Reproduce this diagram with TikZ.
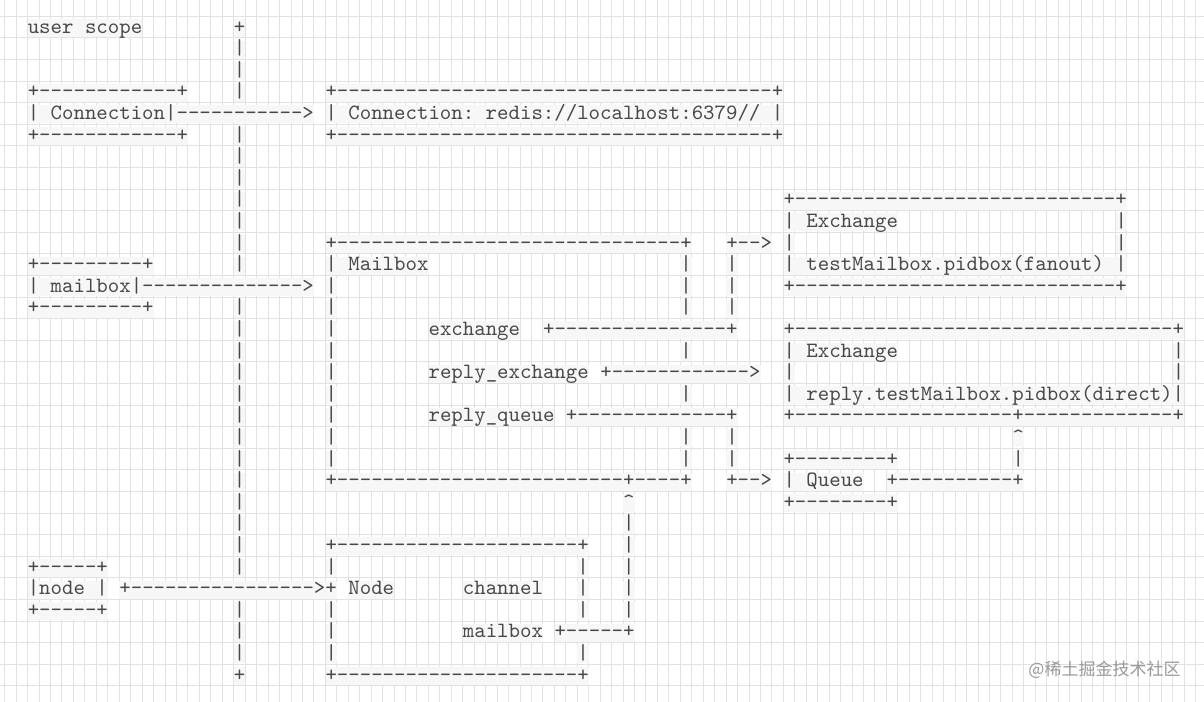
\documentclass[tikz,border=0pt]{standalone}
\usepackage{fontspec}
\usepackage{tikz}
\usepackage{xcolor}
\newfontfamily\cjk{Noto Sans CJK SC}
\newfontfamily\asciifont{lmmono10-regular.otf}
\definecolor{ink}{HTML}{484848}
\definecolor{gridgray}{HTML}{E2E2E2}
\tikzset{
    ascii-text/.style = {anchor=base west, inner xsep=0pt, inner ysep=1pt, text height=13pt, text depth=3pt, fill=black!3, text=ink, font=\fontsize{21.8}{24}\selectfont\asciifont},
    canvas-grid/.style = {draw=gridgray, line width=0.9pt},
    watermark-text/.style = {anchor=east, text=black!40, font=\fontsize{17}{20}\selectfont\cjk},
}
\newcommand{\asciirun}[3]{\node[ascii-text] (r#1c#2) at (#2,#1) {#3};}

\begin{document}
\frenchspacing
\begin{tikzpicture}[x=11.45pt, y=-21.6pt]
\useasboundingbox (-2.41,-1.528) rectangle (102.74,30.97);
\fill[white] (-2.41,-1.528) rectangle (102.74,30.97);
\begin{scope}
\clip (-2.41,-1.528) rectangle (102.74,30.97);
\draw[canvas-grid, xstep=11.45pt, ystep=21.6pt, yshift=16.8pt] (-3,32) grid (104,-3);
\end{scope}
% user scope line
\asciirun{0}{0}{user scope} \asciirun{0}{18}{+}
\asciirun{1}{18}{|}
\asciirun{2}{18}{|}
% connection
\asciirun{3}{0}{+------------+} \asciirun{3}{18}{|} \asciirun{3}{26}{+--------------------------------------+}
\asciirun{4}{0}{| Connection|----------->} \asciirun{4}{26}{| Connection: redis://localhost:6379// |}
\asciirun{5}{0}{+------------+} \asciirun{5}{18}{|} \asciirun{5}{26}{+--------------------------------------+}
\asciirun{6}{18}{|}
\asciirun{7}{18}{|}
% mailbox and exchanges
\asciirun{8}{18}{|} \asciirun{8}{66}{+----------------------------+}
\asciirun{9}{18}{|} \asciirun{9}{66}{| Exchange} \asciirun{9}{95}{|}
\asciirun{10}{18}{|} \asciirun{10}{26}{+------------------------------+} \asciirun{10}{61}{+-->} \asciirun{10}{66}{|} \asciirun{10}{95}{|}
\asciirun{11}{0}{+---------+} \asciirun{11}{18}{|} \asciirun{11}{26}{| Mailbox} \asciirun{11}{57}{|} \asciirun{11}{61}{|} \asciirun{11}{66}{| testMailbox.pidbox(fanout) |}
\asciirun{12}{0}{| mailbox|-------------->} \asciirun{12}{26}{|} \asciirun{12}{57}{|} \asciirun{12}{61}{|} \asciirun{12}{66}{+----------------------------+}
\asciirun{13}{0}{+---------+} \asciirun{13}{18}{|} \asciirun{13}{26}{|} \asciirun{13}{57}{|} \asciirun{13}{61}{|}
\asciirun{14}{18}{|} \asciirun{14}{26}{|} \asciirun{14}{35}{exchange} \asciirun{14}{45}{+---------------+} \asciirun{14}{66}{+---------------------------------+}
\asciirun{15}{18}{|} \asciirun{15}{26}{|} \asciirun{15}{57}{|} \asciirun{15}{66}{| Exchange} \asciirun{15}{100}{|}
\asciirun{16}{18}{|} \asciirun{16}{26}{|} \asciirun{16}{35}{reply\_exchange} \asciirun{16}{50}{+------------>} \asciirun{16}{66}{|} \asciirun{16}{100}{|}
\asciirun{17}{18}{|} \asciirun{17}{26}{|} \asciirun{17}{57}{|} \asciirun{17}{66}{| reply.testMailbox.pidbox(direct)|}
\asciirun{18}{18}{|} \asciirun{18}{26}{|} \asciirun{18}{35}{reply\_queue} \asciirun{18}{47}{+-------------+} \asciirun{18}{66}{+-------------------+-------------+}
\asciirun{19}{18}{|} \asciirun{19}{26}{|} \asciirun{19}{57}{|} \asciirun{19}{61}{|} \asciirun{19}{86}{\textasciicircum}
\asciirun{20}{18}{|} \asciirun{20}{26}{|} \asciirun{20}{57}{|} \asciirun{20}{61}{|} \asciirun{20}{66}{+--------+} \asciirun{20}{86}{|}
\asciirun{21}{18}{|} \asciirun{21}{26}{+-------------------------+----+} \asciirun{21}{61}{+-->} \asciirun{21}{66}{| Queue} \asciirun{21}{75}{+----------+}
\asciirun{22}{18}{|} \asciirun{22}{52}{\textasciicircum} \asciirun{22}{66}{+--------+}
\asciirun{23}{18}{|} \asciirun{23}{52}{|}
% node
\asciirun{24}{18}{|} \asciirun{24}{26}{+---------------------+} \asciirun{24}{52}{|}
\asciirun{25}{0}{+-----+} \asciirun{25}{18}{|} \asciirun{25}{26}{|} \asciirun{25}{48}{|} \asciirun{25}{52}{|}
\asciirun{26}{0}{|node |} \asciirun{26}{8}{+---------------->+} \asciirun{26}{28}{Node} \asciirun{26}{38}{channel} \asciirun{26}{48}{|} \asciirun{26}{52}{|}
\asciirun{27}{0}{+-----+} \asciirun{27}{18}{|} \asciirun{27}{26}{|} \asciirun{27}{48}{|} \asciirun{27}{52}{|}
\asciirun{28}{18}{|} \asciirun{28}{26}{|} \asciirun{28}{38}{mailbox} \asciirun{28}{46}{+-----+}
\asciirun{29}{18}{|} \asciirun{29}{26}{|} \asciirun{29}{48}{|}
\asciirun{30}{18}{+} \asciirun{30}{26}{+---------------------+}
\node[watermark-text] (mark) at (101.0,29.49) {@稀土掘金技术社区};
\end{tikzpicture}
\end{document}
